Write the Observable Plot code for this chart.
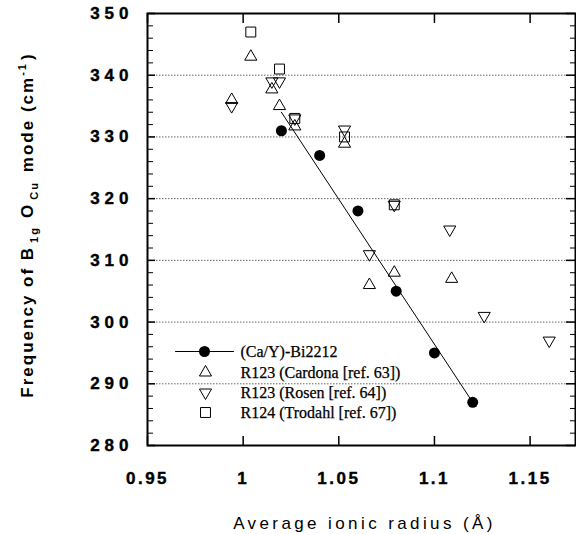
<!DOCTYPE html>
<html>
<head>
<meta charset="utf-8">
<script src="https://cdn.jsdelivr.net/npm/d3@7"></script>
<script src="https://cdn.jsdelivr.net/npm/@observablehq/plot@0.6"></script>
<style>
  html, body { margin: 0; padding: 0; background: #fff; }
  #chart { width: 576px; height: 534px; }
</style>
</head>
<body>
<div id="chart"></div>
<script>
// ---- Axis ticks ----
const xTicks = [0.95, 1, 1.05, 1.1, 1.15];
const xTickLabels = ["0.95", "1", "1.05", "1.1", "1.15"];
const yTicks = [280, 290, 300, 310, 320, 330, 340, 350];
const yMinorTicks = [282, 284, 286, 288, 292, 294, 296, 298, 302, 304, 306, 308, 312, 314, 316, 318,
                     322, 324, 326, 328, 332, 334, 336, 338, 342, 344, 346, 348];
const gridY = [290, 300, 310, 320, 330, 340];

// ---- Series ----
const bi2212X = [1.02, 1.04, 1.06, 1.08, 1.10, 1.12];
const bi2212Y = [331, 327, 318, 305, 295, 287];

const cardonaX = [0.994, 1.004, 1.015, 1.019, 1.027, 1.053, 1.066, 1.079, 1.109];
const cardonaY = [336, 343, 337.7, 335, 331.7, 328.9, 306, 308, 307];

const rosenX = [0.994, 1.015, 1.019, 1.027, 1.053, 1.066, 1.079, 1.108, 1.126, 1.16];
const rosenY = [335, 339, 339, 333, 331.2, 311, 319, 315, 301, 297];

const trodahlX = [1.004, 1.019, 1.027, 1.053, 1.079];
const trodahlY = [347, 341, 333, 330, 319];

const legendLabels = ["(Ca/Y)-Bi2212", "R123 (Cardona [ref. 63])", "R123 (Rosen [ref. 64])", "R124 (Trodahl [ref. 67])"];
const xLabel = "Average ionic radius (Å)";

const toRows = (xs, ys) => xs.map((x, i) => ({x, y: ys[i]}));
const bi2212 = toRows(bi2212X, bi2212Y);
const cardona = toRows(cardonaX, cardonaY);
const rosen = toRows(rosenX, rosenY);
const trodahl = toRows(trodahlX, trodahlY);

const W = 576, H = 534;
const mL = 147, mR = 1, mT = 13, mB = 89;
const pw = W - mL - mR, ph = H - mT - mB;

const lineShape = { draw(ctx, l) { ctx.moveTo(0, 0); ctx.lineTo(0, -l); } };
const sym = {stroke: "black", fill: "none", strokeWidth: 1};
const lx = 58; // legend symbol offset
const serif = {fontFamily: "Liberation Serif", fontSize: 16, textAnchor: "start", lineAnchor: "middle", fill: "black", frameAnchor: "bottom-left", dx: 93};

const plot = Plot.plot({
  width: W, height: H,
  marginLeft: mL, marginRight: mR, marginTop: mT, marginBottom: mB,
  style: {fontFamily: "Liberation Sans", background: "white", color: "black"},
  x: {domain: [0.95, 0.95 + pw / 1913], ticks: xTicks},
  y: {domain: [280, 350], ticks: yTicks},
  marks: [
    Plot.ruleY(gridY, {y: d => d, stroke: "#666", strokeWidth: 1, strokeDasharray: "1.5,1.5"}),
    // ticks
    Plot.tickX(xTicks, {x: d => d, insetTop: ph - 9, stroke: "black", strokeWidth: 1.5}),
    Plot.tickX(xTicks, {x: d => d, insetBottom: ph - 10, stroke: "black", strokeWidth: 1.5}),
    Plot.tickY(yMinorTicks, {y: d => d, insetRight: pw - 6, stroke: "black", strokeWidth: 1}),
    Plot.tickY(yTicks, {y: d => d, insetRight: pw - 8, stroke: "black", strokeWidth: 1.5}),
    Plot.tickY(yMinorTicks, {y: d => d, insetLeft: pw - 5, stroke: "black", strokeWidth: 1}),
    Plot.tickY(yTicks, {y: d => d, insetLeft: pw - 9, stroke: "black", strokeWidth: 1.5}),
    Plot.axisX({ticks: xTicks, tickFormat: (d, i) => xTickLabels[i], tickSize: 0, tickPadding: 26,
                fontSize: 17, fontWeight: "bold", label: null}),
    Plot.axisY({ticks: yTicks, tickSize: 0, tickPadding: 14, fontSize: 17, fontWeight: "bold", label: null}),
    Plot.frame({stroke: "black", strokeWidth: 2}),
    // data
    Plot.linearRegressionY(bi2212, {x: "x", y: "y", ci: 0, stroke: "black", strokeWidth: 1}),
    Plot.dot(cardona, {x: "x", y: "y", symbol: "triangle", r: 4.5, ...sym}),
    Plot.dot(rosen, {x: "x", y: "y", symbol: "triangle", r: 4.5, rotate: 180, ...sym}),
    Plot.dot(trodahl, {x: "x", y: "y", symbol: "square", r: 5.6, ...sym}),
    Plot.dot(bi2212, {x: "x", y: "y", r: 5.5, fill: "black"}),
    // legend
    Plot.vector([0], {frameAnchor: "bottom-left", dx: 28, dy: -94, length: 58, rotate: 90, anchor: "start", shape: lineShape, stroke: "black", strokeWidth: 1}),
    Plot.dot([0], {frameAnchor: "bottom-left", dx: lx - 1, dy: -94, r: 5.5, fill: "black"}),
    Plot.dot([0], {frameAnchor: "bottom-left", dx: lx, dy: -73, symbol: "triangle", r: 4.5, ...sym}),
    Plot.dot([0], {frameAnchor: "bottom-left", dx: lx, dy: -53, symbol: "triangle", r: 4.5, rotate: 180, ...sym}),
    Plot.dot([0], {frameAnchor: "bottom-left", dx: lx, dy: -33, symbol: "square", r: 5.6, ...sym}),
    Plot.text([legendLabels[0]], {text: d => d, ...serif, dy: -94}),
    Plot.text([legendLabels[1]], {text: d => d, ...serif, dy: -73}),
    Plot.text([legendLabels[2]], {text: d => d, ...serif, dy: -53}),
    Plot.text([legendLabels[3]], {text: d => d, ...serif, dy: -33}),
    // x axis label
    Plot.text([xLabel], {text: d => d, frameAnchor: "bottom", dx: 3, dy: 78, fontSize: 17, lineAnchor: "middle", fill: "black"})
  ]
});

const svg = d3.select(plot);
svg.selectAll('[aria-label="y-axis tick label"] text')
  .style("letter-spacing", "5px").attr("stroke", "black").attr("stroke-width", 0.4);
svg.selectAll('[aria-label="x-axis tick label"] text')
  .style("letter-spacing", "2.5px").attr("stroke", "black").attr("stroke-width", 0.4);
svg.selectAll('[aria-label="text"] text').filter(function() { return this.textContent === xLabel; }).style("letter-spacing", "3.4px");
svg.selectAll('[aria-label="text"] text').filter(function() { return legendLabels.includes(this.textContent); })
  .attr("stroke", "black").attr("stroke-width", 0.25);

// rotated y label with sub/superscripts
const yl = svg.append("text")
  .attr("transform", `translate(33, ${mT + ph / 2 - 4}) rotate(-90)`)
  .attr("text-anchor", "middle")
  .attr("font-family", "Liberation Sans")
  .attr("font-weight", "bold")
  .attr("font-size", 17)
  .attr("fill", "black")
  .style("letter-spacing", "2px");
yl.append("tspan").text("Frequency of B");
yl.append("tspan").attr("dx", 3).attr("dy", 5).attr("font-size", 11).text("1g");
yl.append("tspan").attr("dx", 8).attr("dy", -5).text("O");
yl.append("tspan").attr("dx", 3).attr("dy", 5).attr("font-size", 11).text("Cu");
yl.append("tspan").attr("dx", 9).attr("dy", -5).text("mode (cm");
yl.append("tspan").attr("dy", -7).attr("font-size", 11).text("-1");
yl.append("tspan").attr("dx", 2).attr("dy", 7).text(")");

document.getElementById("chart").appendChild(plot);
</script>
</body>
</html>
